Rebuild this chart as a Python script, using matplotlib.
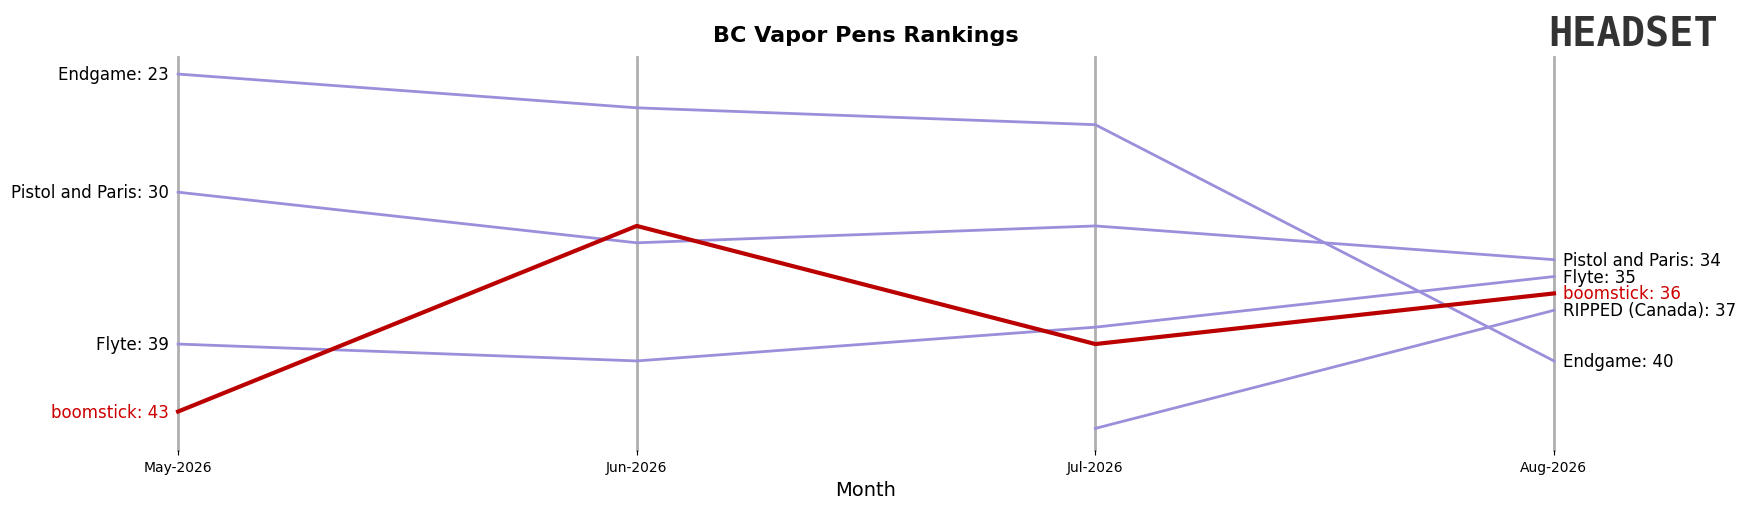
import matplotlib
matplotlib.use("Agg")
import matplotlib.pyplot as plt

months = ["May-2026", "Jun-2026", "Jul-2026", "Aug-2026"]
brands = ["Endgame", "Pistol and Paris", "Flyte", "RIPPED (Canada)", "boomstick"]
ranks = {
    "Endgame": [23, 25, 26, 40],
    "Pistol and Paris": [30, 33, 32, 34],
    "Flyte": [39, 40, 38, 35],
    "RIPPED (Canada)": [None, None, 44, 37],
    "boomstick": [43, 32, 39, 36],
}
highlight = "boomstick"

fig = plt.figure(figsize=(17.46, 5.06), dpi=100)
ax = fig.add_axes([0.102, 0.108, 0.788, 0.777])
x = list(range(len(months)))
for b in brands:
    pts = [(i, r) for i, r in zip(x, ranks[b]) if r is not None]
    xs, ys = zip(*pts)
    if b == highlight:
        ax.plot(xs, ys, color="#bb0000", lw=3, zorder=5, clip_on=False)
    else:
        ax.plot(xs, ys, color="#9b8fdb", lw=2, zorder=3, clip_on=False)
    c = "#cc0000" if b == highlight else "black"
    if ranks[b][0] is not None:
        ax.text(-0.02, ranks[b][0], f"{b}: {ranks[b][0]}", ha="right", va="center", fontsize=12, color=c)
    ax.text(3.02, ranks[b][-1], f"{b}: {ranks[b][-1]}", ha="left", va="center", fontsize=12, color=c)
for i in x:
    ax.axvline(i, color="#b0b0b0", lw=2, zorder=1, clip_on=False)
ax.set_xlim(0, 3)
ax.set_ylim(45.3, 22.0)
ax.set_yticks([])
ax.set_xticks(x)
ax.set_xticklabels(months, fontsize=10)
ax.set_xlabel("Month", fontsize=14)
for s in ax.spines.values():
    s.set_visible(False)
ax.set_title("BC Vapor Pens Rankings", fontsize=16, fontweight="bold", pad=12)
fig.text(0.887, 0.93, "HEADSET", fontsize=29, color="#333333", fontweight="bold", va="center", ha="left", family="DejaVu Sans Mono")
fig.savefig("out.png", dpi=100)
